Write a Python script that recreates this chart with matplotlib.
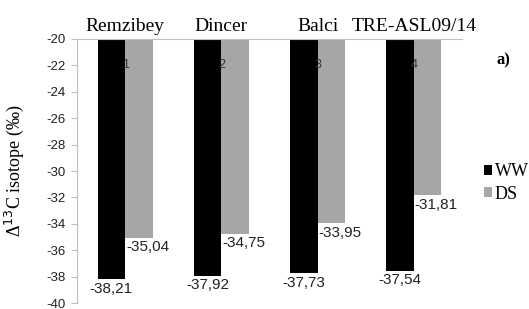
import numpy as np
import matplotlib
matplotlib.use("Agg")
import matplotlib.pyplot as plt

genotypes = ["Remzibey", "Dincer", "Balci", "TRE-ASL09/14"]
group_ids = ["1", "2", "3", "4"]
ww = [-38.21, -37.92, -37.73, -37.54]
ds = [-35.04, -34.75, -33.95, -31.81]
y_ticks = [-40, -38, -36, -34, -32, -30, -28, -26, -24, -22, -20]

BASE = -20
W = 0.286
SERIF = "Liberation Serif"
SANS = "Liberation Sans"

fig = plt.figure(figsize=(5.29, 3.09), dpi=100)
ax = fig.add_axes([0.1456, 0.0194, 0.7278, 0.8544])

x = np.arange(len(genotypes))
ww_arr = np.array(ww)
ds_arr = np.array(ds)

ax.bar(x - W / 2, ww_arr - BASE, bottom=BASE, width=W, color="black",
       label="WW", zorder=2)
ax.bar(x + W / 2, ds_arr - BASE, bottom=BASE, width=W, color="#a6a6a6",
       label="DS", zorder=2)

for i in range(len(x)):
    ax.text(x[i], -22, group_ids[i], ha="center", va="center",
            fontsize=9, family=SANS, color="#333333", zorder=3)
    ax.text(x[i] - W / 2, ww[i] - 0.2, f"{ww[i]:.2f}".replace(".", ","),
            ha="center", va="top", fontsize=11, family=SANS, color="#222222")
    ax.text(x[i] + W / 2 + 0.09, ds[i] - 0.2, f"{ds[i]:.2f}".replace(".", ","),
            ha="center", va="top", fontsize=11, family=SANS, color="#222222")

ax.set_xlim(-0.5, len(x) - 0.5)
ax.set_ylim(-40, -20)
ax.set_yticks(y_ticks)
ax.set_yticklabels([str(t) for t in y_ticks], family=SANS, fontsize=9.5,
                   color="#222222")

ax.xaxis.tick_top()
ax.set_xticks(x)
ax.set_xticklabels(genotypes, family=SERIF, fontsize=14)
ax.tick_params(axis="x", length=0, pad=3)
ax.tick_params(axis="y", length=4, color="#bfbfbf", pad=4)

for s in ["bottom", "right"]:
    ax.spines[s].set_visible(False)
ax.spines["top"].set_color("#bfbfbf")
ax.spines["left"].set_color("#bfbfbf")

ax.set_ylabel("Δ$^{13}$C isotope (‰)", family=SERIF, fontsize=13)
ax.yaxis.set_label_coords(-0.132, 0.5)

ax.legend(loc="center left", bbox_to_anchor=(1.02, 0.455), frameon=False,
          prop={"family": SERIF, "size": 13}, handlelength=0.45,
          handleheight=0.45, handletextpad=0.15, labelspacing=0.3,
          borderaxespad=0.4)

fig.text(0.952, 0.805, "a)", family=SERIF, fontsize=12, fontweight="bold",
         ha="center", va="center")

fig.savefig("out.png", dpi=100, facecolor="white")
